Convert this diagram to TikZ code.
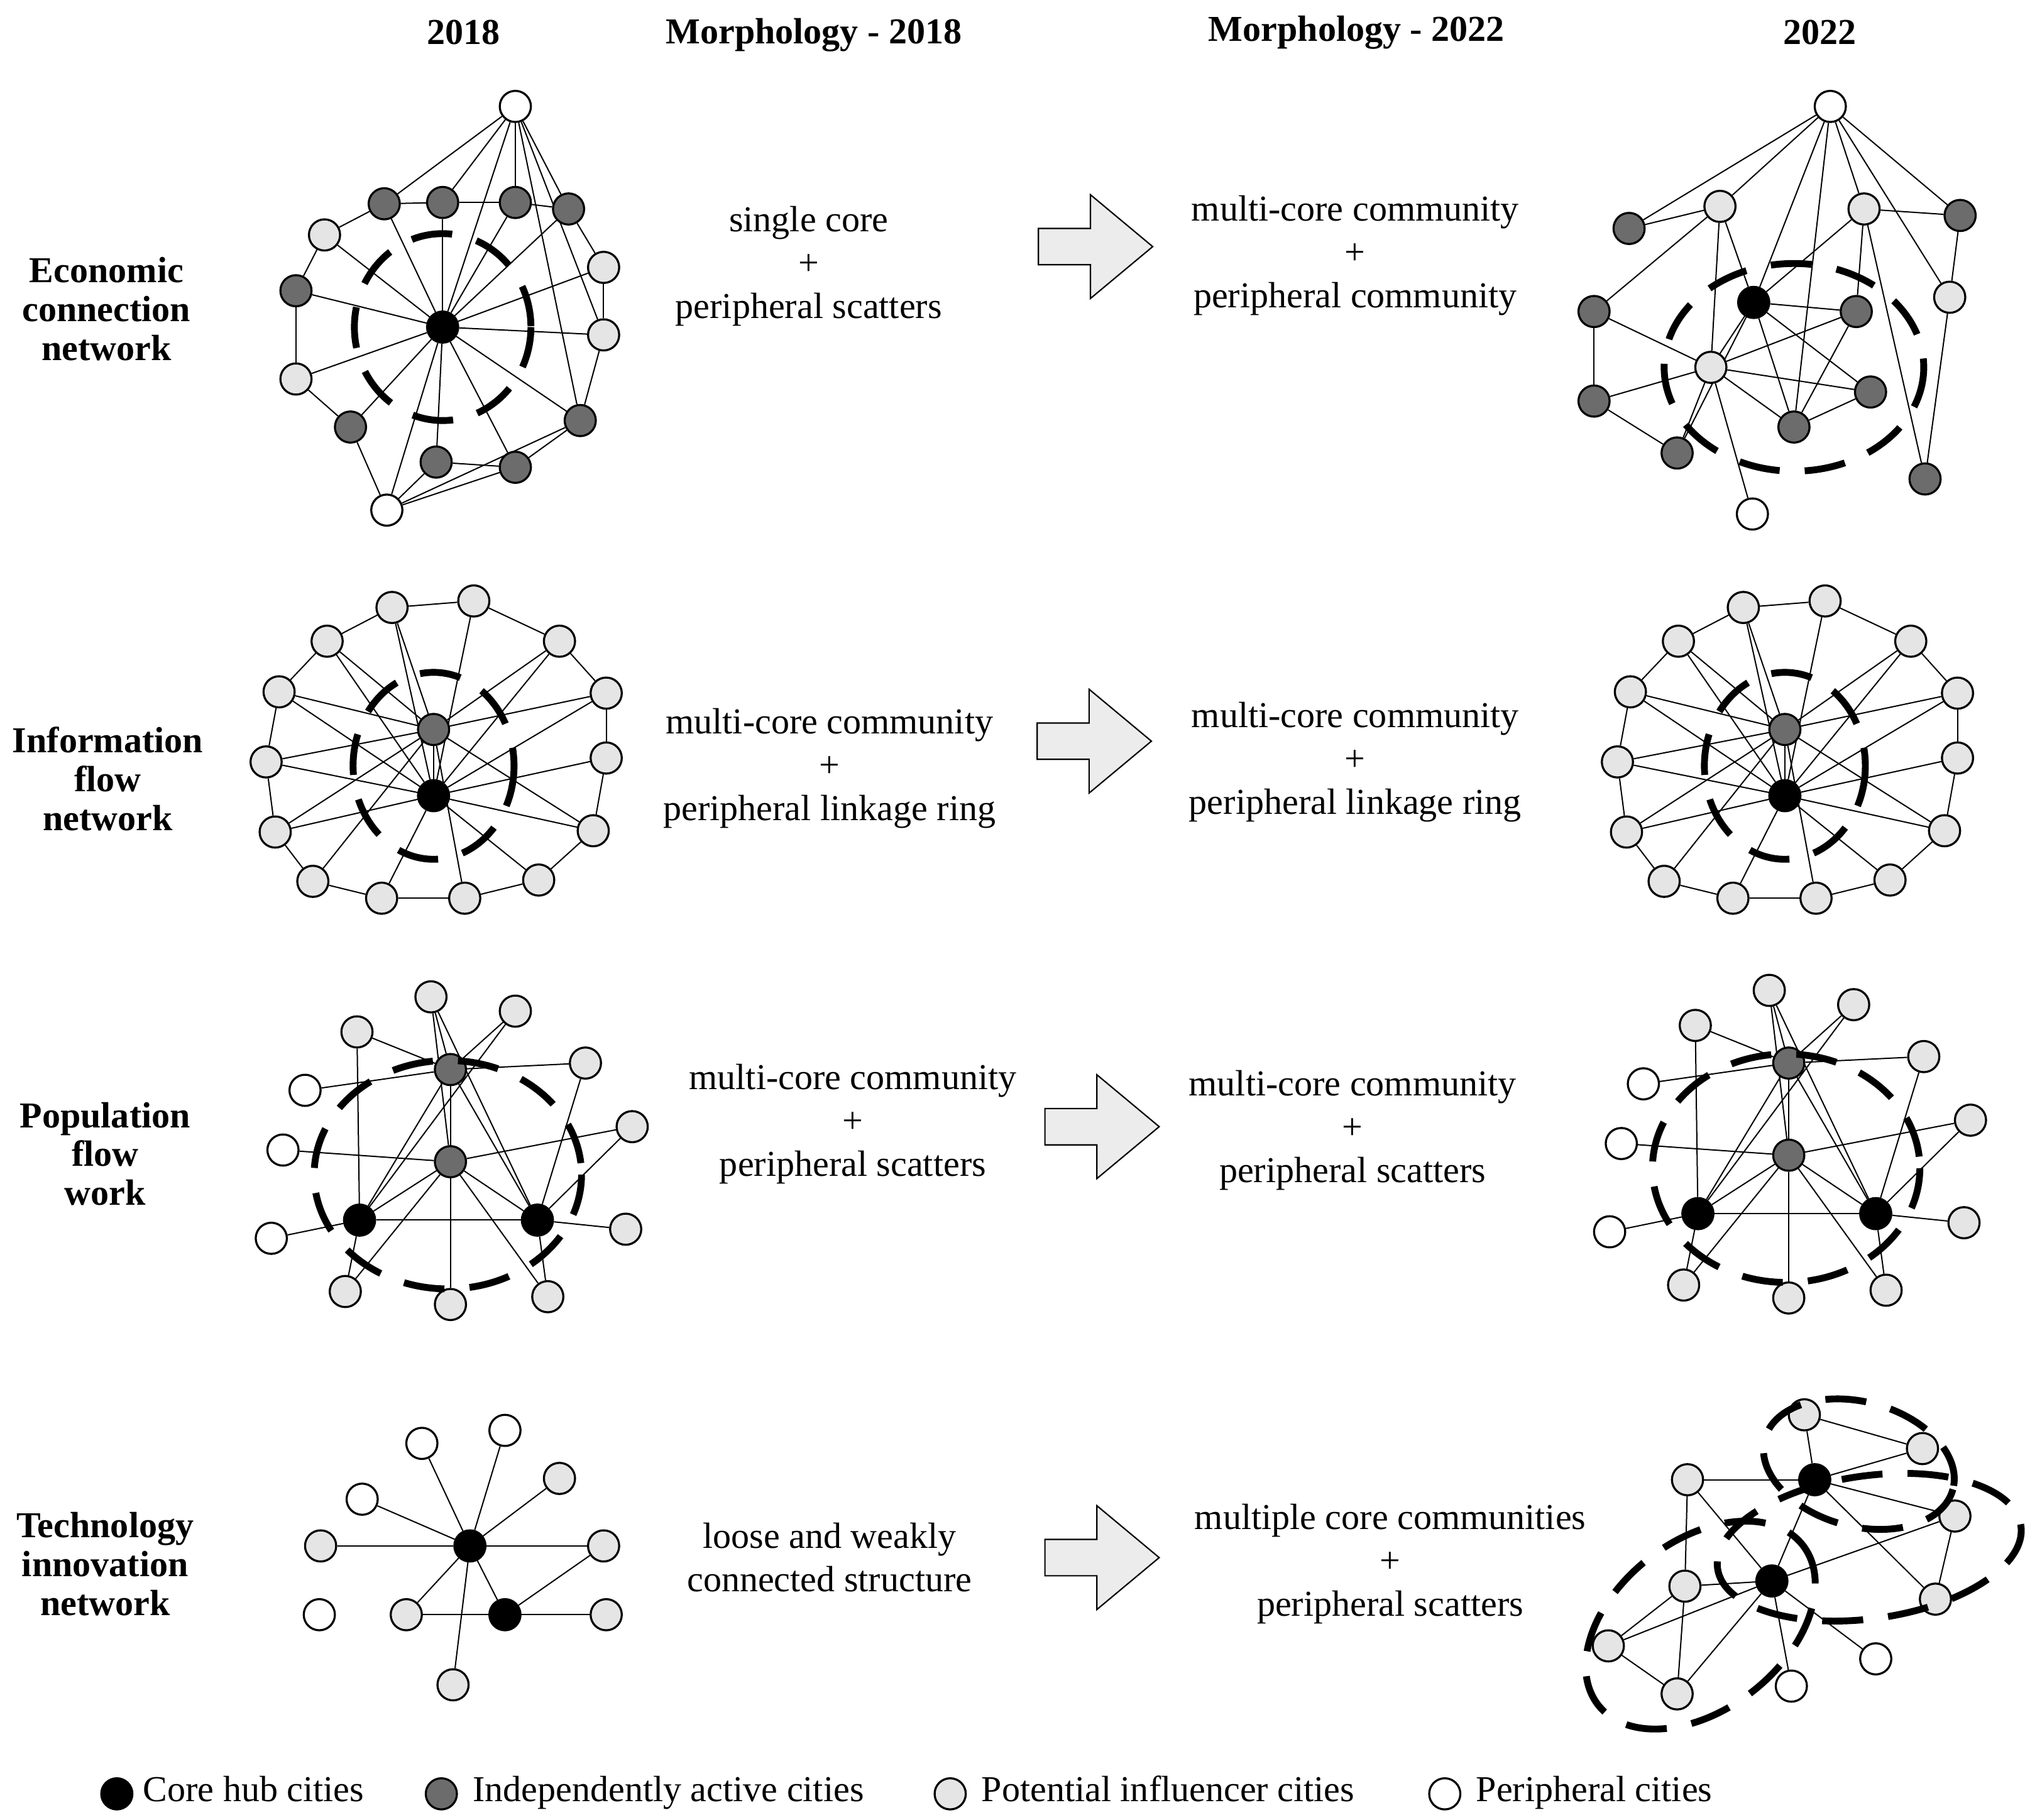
\documentclass[tikz,border=0pt]{standalone}
\usepackage{fontspec}
\setmainfont{Liberation Serif}
\usetikzlibrary{backgrounds}

\begin{document}
\begin{tikzpicture}[
  x=0.02cm, y=-0.02cm,
  city/.style={circle, draw, line width=0.9pt, minimum size=0.48cm, inner sep=0pt},
  core/.style={city, fill=black},
  active/.style={city, fill=gray!85!black},
  potential/.style={city, fill=gray!20},
  peri/.style={city, fill=white},
  link/.style={draw, line width=0.55pt},
  ring/.style={draw, line width=3pt, dash pattern=on 18pt off 11pt},
  head/.style={font=\fontsize{16}{18}\selectfont\bfseries},
  rowlabel/.style={font=\fontsize{16}{17}\selectfont\bfseries, align=center},
  form/.style={font=\fontsize{16}{19}\selectfont, align=center},
  shift arrow/.pic={
    \draw[fill=gray!15, line width=0.6pt] (-43,-14) -- (-3,-14) -- (-3,-40) -- (45,0)
      -- (-3,40) -- (-3,14) -- (-43,14) -- cycle;
  }
]
\useasboundingbox (0,0) rectangle (1560,1402);

% =======================================================
%                     HEADINGS
% =======================================================
\node[head] (h1) at (357,25) {2018};
\node[head] (h2) at (627,27) {Morphology - 2018};
\node[head] (h3) at (1045,25) {Morphology - 2022};
\node[head] (h4) at (1402,25) {2022};

\node[rowlabel] (r1) at (82,238) {Economic\\connection\\network};
\node[rowlabel] (r2) at (83,600) {Information\\flow\\network};
\node[rowlabel] (r3) at (81,889) {Population\\flow\\work};
\node[rowlabel] (r4) at (81,1205) {Technology\\innovation\\network};

% =======================================================
%                     MORPHOLOGY TEXTS + ARROWS
% =======================================================
\node[form] (m1a) at (623,205) {single core\\+\\peripheral scatters};
\node[form] (m1b) at (1044,197) {multi-core community\\+\\peripheral community};
\node[form] (m2a) at (639,592) {multi-core community\\+\\peripheral linkage ring};
\node[form] (m2b) at (1044,587) {multi-core community\\+\\peripheral linkage ring};
\node[form] (m3a) at (657,866) {multi-core community\\+\\peripheral scatters};
\node[form] (m3b) at (1042,871) {multi-core community\\+\\peripheral scatters};
\node[form] (m4a) at (639,1200) {loose and weakly\\connected structure};
\node[form] (m4b) at (1071,1205) {multiple core communities\\+\\peripheral scatters};

\pic (s1) at (843,190) {shift arrow};
\pic (s2) at (842,571) {shift arrow};
\pic (s3) at (848,868) {shift arrow};
\pic (s4) at (848,1200) {shift arrow};

% =======================================================
%                     ECONOMIC 2018
% =======================================================
\node[core] (ea0) at (341,252) {};
\foreach \n/\x/\y in {ew1/397/82, ew2/298/393} \node[peri] (\n) at (\x,\y) {};
\foreach \n/\x/\y in {eg1/296/157, eg2/341/156, eg3/397/156, eg4/438/161, eg5/228/224,
  eg6/270/329, eg7/336/356, eg8/397/360, eg9/447/324} \node[active] (\n) at (\x,\y) {};
\foreach \n/\x/\y in {el1/250/181, el2/465/206, el3/465/258, el4/228/292}
  \node[potential] (\n) at (\x,\y) {};
\begin{scope}[on background layer]
\foreach \a/\b in {ew1/eg1, ew1/eg2, ew1/eg3, ew1/eg4, ew1/ea0, ew1/el3, ew1/eg9,
  el1/eg1, eg1/eg2, eg2/eg3, eg3/eg4, eg4/el2, el2/el3, el3/eg9, eg9/eg8, eg8/eg7,
  eg7/ew2, ew2/eg6, eg6/el4, el4/eg5, eg5/el1, ew2/eg8, eg9/ew2}
  \path[link] (\a) -- (\b);
\foreach \b in {eg1, eg2, eg3, eg4, eg5, eg6, eg7, eg8, eg9, el1, el2, el3, el4, ew2}
  \path[link] (ea0) -- (\b);
\end{scope}
\draw[ring] (ea0) ellipse (68 and 72);

% =======================================================
%                     ECONOMIC 2022
% =======================================================
\node[core] (eb0) at (1351,233) {};
\foreach \n/\x/\y in {fw1/1410/82, fw2/1350/396} \node[peri] (\n) at (\x,\y) {};
\foreach \n/\x/\y in {fg1/1255/176, fg2/1510/166, fg3/1228/240, fg4/1430/240, fg5/1228/309,
  fg6/1441/302, fg7/1382/329, fg8/1292/349, fg9/1483/369} \node[active] (\n) at (\x,\y) {};
\foreach \n/\x/\y in {fl1/1325/159, fl2/1436/161, fl3/1502/229, fl4/1318/283}
  \node[potential] (\n) at (\x,\y) {};
\begin{scope}[on background layer]
\foreach \a/\b in {fw1/fg1, fw1/fl1, fw1/fl2, fw1/fg2, fw1/eb0, fw1/fg7, fw1/fl3,
  fg1/fl1, fl1/fg3, fl1/eb0, fl1/fl4, fg3/fl4, fg3/fg5, fg5/fl4, fg5/fg8, fg8/fl4,
  fl4/eb0, fl4/fg4, fl4/fg6, fl4/fg7, fl4/fw2, eb0/fg4, eb0/fl2, eb0/fg6, eb0/fg7,
  eb0/fg8, fl2/fg2, fl2/fg4, fl2/fg9, fl3/fg9, fg2/fl3, fg4/fg7, fg7/fg6}
  \path[link] (\a) -- (\b);
\end{scope}
\draw[ring] (1382,283) ellipse (100 and 80);

% =======================================================
%                     INFORMATION 2018 / 2022
% =======================================================
\foreach \off/\p in {0/ia, 1041/ib} {
  \node[active] (\p g) at (334+\off,562) {};
  \node[core] (\p c) at (334+\off,613) {};
  \foreach \i/\x/\y in {1/302/468, 2/365/463, 3/431/494, 4/467/534, 5/467/584, 6/457/640,
    7/415/678, 8/358/692, 9/294/692, 10/241/679, 11/212/641, 12/205/587, 13/215/533, 14/252/494}
    \node[potential] (\p\i) at (\x+\off,\y) {};
  \begin{scope}[on background layer]
  \foreach \i [evaluate=\i as \j using {int(mod(\i,14)+1)}] in {1,...,14}
    \path[link] (\p\i) -- (\p\j);
  \foreach \i in {1,3,4,6,8,10,11,12,13,14} \path[link] (\p g) -- (\p\i);
  \foreach \i in {2,4,5,6,7,9,11,12,13,14,1,3} \path[link] (\p c) -- (\p\i);
  \path[link] (\p g) -- (\p c);
  \end{scope}
  \draw[ring] (334+\off,590) ellipse (62 and 72);
}

% =======================================================
%                     POPULATION 2018 / 2022
% =======================================================
\foreach \off/\dy/\p in {0/0/pa, 1031/-5/pb} {
  \node[active] (\p g1) at (347+\off,824+\dy) {};
  \node[active] (\p g2) at (347+\off,895+\dy) {};
  \node[core] (\p c1) at (277+\off,940+\dy) {};
  \node[core] (\p c2) at (414+\off,940+\dy) {};
  \foreach \i/\x/\y in {1/332/768, 2/397/779, 3/275/795, 4/451/819, 5/487/868, 6/482/947,
    7/422/999, 8/347/1005, 9/266/995}
    \node[potential] (\p\i) at (\x+\off,\y+\dy) {};
  \foreach \i/\x/\y in {10/235/840, 11/218/886, 12/209/954}
    \node[peri] (\p\i) at (\x+\off,\y+\dy) {};
  \begin{scope}[on background layer]
  \foreach \a/\b in {g1/1, g1/2, g1/3, g1/10, g1/4, g1/c1, g1/c2, g1/g2, g2/11, g2/5, g2/c1,
    g2/c2, g2/8, g2/9, g2/7, g2/1, c1/12, c1/c2, c1/3, c1/9, c1/2, c2/6, c2/5, c2/7, c2/1, c2/4}
    \path[link] (\p\a) -- (\p\b);
  \end{scope}
  \draw[ring] (345+\off,905+\dy) ellipse (103 and 88);
}

% =======================================================
%                     TECHNOLOGY 2018
% =======================================================
\node[core] (ta1) at (362,1191) {};
\node[core] (ta2) at (389,1244) {};
\foreach \n/\x/\y in {tl1/431/1139, tl2/465/1191, tl3/467/1244, tl4/313/1244, tl5/247/1191,
  tl6/349/1298} \node[potential] (\n) at (\x,\y) {};
\foreach \n/\x/\y in {tw1/325/1112, tw2/389/1102, tw3/279/1155, tw4/246/1244}
  \node[peri] (\n) at (\x,\y) {};
\begin{scope}[on background layer]
\foreach \b in {tw1, tw2, tw3, tl1, tl2, tl5, tl4, ta2, tl6}
  \path[link] (ta1) -- (\b);
\foreach \b in {tl4, tl3, tl2}
  \path[link] (ta2) -- (\b);
\end{scope}

% =======================================================
%                     TECHNOLOGY 2022
% =======================================================
\node[core] (tb1) at (1398,1140) {};
\node[core] (tb2) at (1365,1218) {};
\foreach \n/\x/\y in {ul1/1390/1090, ul2/1481/1116, ul3/1300/1140, ul4/1506/1168,
  ul5/1298/1222, ul6/1491/1232, ul7/1239/1268, ul8/1292/1305}
  \node[potential] (\n) at (\x,\y) {};
\foreach \n/\x/\y in {uw1/1445/1278, uw2/1380/1299} \node[peri] (\n) at (\x,\y) {};
\begin{scope}[on background layer]
\foreach \a/\b in {ul1/tb1, ul1/ul2, tb1/ul2, tb1/ul3, tb1/ul4, tb1/tb2, tb1/ul6,
  tb2/ul3, tb2/ul5, tb2/ul7, tb2/ul8, tb2/ul4, tb2/uw1, tb2/uw2, ul3/ul5, ul5/ul7,
  ul7/ul8, ul4/ul6, ul5/ul8}
  \path[link] (\a) -- (\b);
\end{scope}
\draw[ring, rotate around={-15:(1432,1128)}] (1432,1128) ellipse (75 and 48);
\draw[ring, rotate around={8:(1440,1192)}] (1440,1192) ellipse (118 and 55);
\draw[ring, rotate around={38:(1310,1252)}] (1310,1252) ellipse (100 and 65);

% =======================================================
%                     LEGEND
% =======================================================
\node[core] (k1) at (90,1382) {};
\node[form, anchor=base west] (k1t) at (104,1388) {Core hub cities};
\node[active] (k2) at (340,1382) {};
\node[form, anchor=base west] (k2t) at (358,1388) {Independently active cities};
\node[potential] (k3) at (732,1382) {};
\node[form, anchor=base west] (k3t) at (750,1388) {Potential influencer cities};
\node[peri] (k4) at (1113,1382) {};
\node[form, anchor=base west] (k4t) at (1131,1388) {Peripheral cities};
\end{tikzpicture}
\end{document}
